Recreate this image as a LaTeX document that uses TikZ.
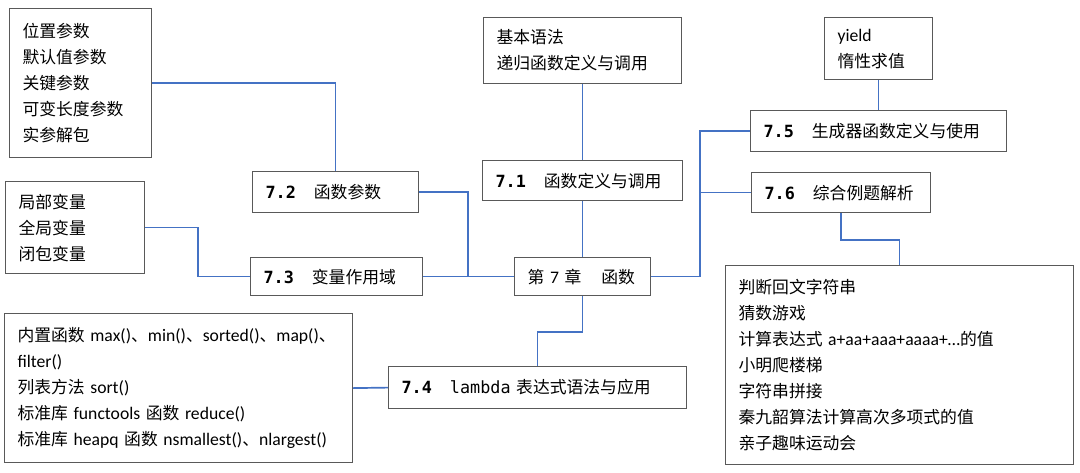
\documentclass[tikz,border=0pt]{standalone}
\usepackage{fontspec}
\usetikzlibrary{calc}
\setmainfont{Noto Sans CJK SC}
\newfontfamily\latfont[Scale=1.05]{Carlito}
\newfontfamily\codefont{DejaVu Sans Mono}
\newcommand{\en}[1]{{\latfont #1}}
\newcommand{\secno}[1]{{\codefont\bfseries #1}}
\definecolor{boxgray}{HTML}{595959}
\definecolor{linkblue}{HTML}{4472C4}

\begin{document}
\begin{tikzpicture}[x=1pt,y=-1pt,
        box/.style={draw=boxgray,line width=1.2pt,anchor=north west,align=left,
            inner xsep=13pt,inner ysep=0pt,font=\fontsize{16.8}{26}\selectfont},
        link/.style={draw=linkblue,line width=1.7pt}]
    \useasboundingbox (0,0) rectangle (1080,472);
    % left column
    \node[box,text width=116pt,minimum height=149pt] (params) at (9,8)
        {位置参数\\默认值参数\\关键参数\\可变长度参数\\实参解包};
    \node[box,text width=113pt,minimum height=92pt] (scope) at (5,181)
        {局部变量\\全局变量\\闭包变量};
    \node[box,text width=322pt,minimum height=149pt] (builtins) at (4,313)
        {\mbox{内置函数 \en{max()}、\en{min()}、\en{sorted()}、\en{map()}、}\\\en{filter()}\\
         列表方法 \en{sort()}\\\mbox{标准库 \en{functools} 函数 \en{reduce()}}\\
         \mbox{标准库 \en{heapq} 函数 \en{nsmallest()}、\en{nlargest()}}};
    % sections
    \node[box,text width=140pt,minimum height=41pt] (sec2) at (252,171)
        {\secno{7.2}\hspace{18pt}函数参数};
    \node[box,text width=146pt,minimum height=38pt] (sec3) at (250,257)
        {\secno{7.3}\hspace{18pt}变量作用域};
    \node[box,text width=172pt,minimum height=66pt] (basics) at (483,17)
        {基本语法\\递归函数定义与调用};
    \node[box,text width=174pt,minimum height=40pt] (sec1) at (482,160)
        {\secno{7.1}\hspace{18pt}函数定义与调用};
    \node[box,text width=110pt,minimum height=38pt] (chap) at (514,257)
        {第 \en{7} 章\hspace{20pt}函数};
    \node[box,text width=272pt,minimum height=42pt] (sec4) at (388,366)
        {\secno{7.4}\hspace{18pt}{\codefont lambda} 表达式语法与应用};
    \node[box,text width=82pt,minimum height=62pt] (yieldbox) at (824,17)
        {\en{yield}\\惰性求值};
    \node[box,text width=230pt,minimum height=41pt] (sec5) at (750,110)
        {\secno{7.5}\hspace{18pt}生成器函数定义与使用};
    \node[box,text width=153pt,minimum height=40pt] (sec6) at (751,172)
        {\secno{7.6}\hspace{18pt}综合例题解析};
    \node[box,text width=322pt,minimum height=199pt] (examples) at (725,265)
        {判断回文字符串\\猜数游戏\\\mbox{计算表达式 \en{a+aa+aaa+aaaa+\ldots}的值}\\小明爬楼梯\\
         字符串拼接\\秦九韶算法计算高次多项式的值\\亲子趣味运动会};
    % connectors
    \coordinate (trunk) at ($(chap.east)+(49,0)$);
    \draw[link] (params.east) -| (sec2.north);
    \draw[link] (sec2.east) -- ++(49,0) |- (chap.west);
    \draw[link] (sec3.east) -- (chap.west);
    \draw[link] (scope.east) -- ++(53,0) |- (sec3.west);
    \draw[link] (basics.south) -- (sec1.north);
    \draw[link] (sec1.south) -- (chap.north);
    \draw[link] (chap.east) -- (trunk) |- (sec5.west);
    \draw[link] (trunk |- sec6.west) -- (sec6.west);
    \draw[link] (yieldbox.south) -- (sec5.north);
    \draw[link] (sec6.south) -- ++(0,27) -| (examples.north);
    \draw[link] (chap.south) -- ++(0,36) -| (sec4.north);
    \draw[link] (sec4.west) -- (builtins.east);
\end{tikzpicture}
\end{document}
